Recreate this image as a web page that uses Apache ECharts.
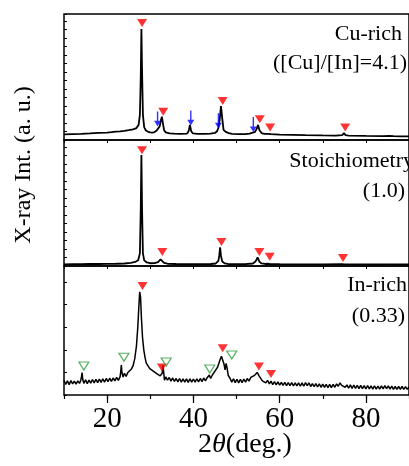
<!DOCTYPE html>
<html>
<head>
<meta charset="utf-8">
<script src="https://cdn.jsdelivr.net/npm/echarts@6/dist/echarts.min.js"></script>
<style>
  html, body { margin: 0; padding: 0; background: #fff; }
  #chart { width: 409px; height: 466px; }
</style>
</head>
<body>
<div id="chart"></div>
<script>
// 2theta (deg.) vs intensity, each panel scaled 0..100
const cuRichData = [
  [10,4.5],[12,4.7],[14,4.9],[16,5.2],[18,5.6],[20,5.9],[21,6.2],[22,6.6],[23,6.9],[24,7.3],
  [25,7.8],[26,8.5],[26.8,9.5],[27.3,12],[27.6,20],[27.8,50],[27.95,88],[28.1,55],[28.3,20],[28.6,10],
  [29,7.5],[29.5,6.5],[30,6],[30.5,5.9],[31,6.3],[31.5,7.5],[31.8,8.5],[32.2,11],[32.5,16],[32.7,18.5],
  [32.9,14],[33.2,8],[33.6,6],[34.5,5.3],[35.5,5],[37,4.9],[38.5,5],[38.9,7],[39.2,12],[39.5,7],
  [39.9,5.2],[41,4.9],[42.5,4.8],[44,5],[45,5.6],[45.5,7],[45.8,9.5],[46.1,16],[46.4,27],[46.7,17],
  [47,8],[47.5,6.5],[47.8,7],[48.2,5.5],[49,4.8],[50.5,4.6],[52,4.6],[53,5],[53.8,5.8],[54.3,6.5],
  [54.7,9],[55,12],[55.3,8],[55.8,5.5],[56.5,4.8],[57.2,4.8],[57.6,6],[58,4.6],[60,4.2],[63,4],
  [66,3.8],[70,3.6],[73,3.5],[74.5,3.8],[74.9,5.5],[75.3,3.8],[76,3.5],[80,3.2],[84,3],[85.5,3.2],
  [85.9,4],[86.4,3],[88,2.9],[90,2.8]
];
const stoichData = [
  [10,1.3],[12,1.4],[14,1.5],[15.8,1.6],[16.1,2.3],[16.4,1.6],[18,1.6],[20,1.7],[22,1.8],[24,2],
  [25.5,2.4],[26.5,3.2],[27.2,4.5],[27.6,10],[27.8,45],[27.95,88],[28.1,45],[28.3,10],[28.6,4.5],[29.2,2.8],
  [30,2.2],[31,2.3],[31.8,3],[32.2,4.5],[32.4,5.3],[32.7,4],[33.2,2.4],[34,1.8],[36,1.6],[38,1.5],
  [40,1.5],[42,1.5],[44,1.6],[45.2,2],[45.8,4],[46,8],[46.2,14.8],[46.4,8],[46.7,3.5],[47.3,2],
  [48,1.6],[50,1.5],[52,1.5],[53.8,2],[54.4,3.5],[54.9,6.9],[55.3,3.5],[55.8,2],[56.6,1.6],[57.2,1.8],
  [57.4,2.5],[57.7,1.6],[60,1.4],[65,1.3],[70,1.3],[74.5,1.4],[74.8,2],[75.1,1.3],[80,1.2],[85.5,1.3],
  [85.8,2],[86.1,1.3],[90,1.2]
];
const inRichData = [
  [10,11.5],[10.4,8.2],[10.8,10.9],[11.2,8],[11.6,11.2],[12,8.6],[12.4,10.8],[12.8,8.4],[13.2,11],[13.6,9],
  [13.9,11.5],[14.05,14],[14.2,17.3],[14.35,12],[14.6,9],[15,11.8],[15.4,8.8],[15.8,11.6],[16.2,9.2],[16.6,12],
  [17,9.4],[17.4,12.2],[17.8,9.6],[18.2,12.4],[18.6,9.8],[19,12.6],[19.4,10],[19.8,12.8],[20.2,10.4],[20.6,13],
  [21,10.6],[21.4,13.2],[21.8,11],[22.2,13.6],[22.6,11.4],[23,14],[23.15,18],[23.3,23.3],[23.45,17],[23.7,14],
  [24,16.8],[24.4,14.4],[24.8,17.5],[25.2,16.2],[25.6,20],[26,22.5],[26.4,28],[26.8,38],[27.1,52],[27.35,68],
  [27.55,80],[27.75,76],[27.95,60],[28.2,45],[28.5,35],[28.8,29],[29.1,24.5],[29.5,24.5],[29.9,20.5],[30.3,21.5],
  [30.7,18.5],[31.1,19.2],[31.5,16.5],[31.9,17.5],[32.3,14.8],[32.6,16],[32.8,17],[32.95,23],[33.1,18],[33.3,11.5],
  [33.6,14],[34,11.5],[34.4,13.6],[34.8,10.8],[35.2,13.2],[35.6,10.6],[36,12.8],[36.4,10.2],[36.8,12.8],[37.2,10],
  [37.6,12.6],[38,10],[38.4,12.6],[38.8,9.8],[39.2,12.6],[39.6,10],[40,12.4],[40.4,10],[40.8,12.6],[41.2,10.2],
  [41.6,12.8],[42,10.4],[42.4,13.2],[42.8,11],[43.2,13.4],[43.45,12.5],[43.7,15.5],[44,12.8],[44.4,15.5],[44.8,15],
  [45.2,19.5],[45.6,21.5],[45.9,24.5],[46.2,27.5],[46.5,30],[46.8,29],[47.1,24],[47.35,19.5],[47.6,24.5],[47.85,20],
  [48.1,15],[48.5,13],[48.9,10],[49.3,12.6],[49.7,9.6],[50.1,12.2],[50.5,9.4],[50.9,12.2],[51.3,9.6],[51.7,12.4],
  [52.1,10],[52.5,12.8],[52.9,10.8],[53.3,13.6],[53.7,12.6],[54.1,15],[54.45,15.2],[54.8,17.5],[55.2,15],[55.6,13.8],
  [56,11],[56.4,12],[56.8,9.4],[57.2,11.4],[57.6,8.6],[58,10.8],[58.4,8],[58.8,10.4],[59.2,7.8],[59.6,10.2],
  [60,7.6],[60.4,9.8],[60.8,7.4],[61.2,9.8],[61.6,7.2],[62,9.6],[62.4,7.2],[62.8,9.6],[63.2,7],[63.6,9.4],
  [64,7],[64.4,9.4],[64.8,6.8],[65.2,9.4],[65.6,6.8],[66,9.6],[66.4,7.2],[66.8,9.4],[67.2,6.6],[67.6,8.8],
  [68,6.4],[68.4,8.8],[68.8,6.2],[69.2,8.6],[69.6,6],[70,8.4],[70.4,6],[70.8,8.2],[71.2,5.8],[71.6,8.2],
  [72,5.8],[72.4,8.2],[72.8,6],[73.2,8.6],[73.6,6.8],[74,9.4],[74.4,7.4],[74.8,8.6],[75.2,6],[75.6,7.8],
  [76,5.4],[76.4,7.8],[76.8,5.2],[77.2,7.6],[77.6,5.2],[78,7.4],[78.4,5],[78.8,7.4],[79.2,5],[79.6,7.2],
  [80,4.8],[80.4,7.2],[80.8,4.8],[81.2,7],[81.6,4.6],[82,7],[82.4,4.6],[82.8,6.8],[83.2,4.6],[83.6,7],
  [84,4.8],[84.4,7.2],[84.8,5],[85.2,7],[85.6,4.6],[86,6.8],[86.4,4.4],[86.8,6.6],[87.2,4.4],[87.6,6.6],
  [88,4.4],[88.4,6.6],[88.8,4.4],[89.2,6.4],[89.6,4.4],[90,6.2]
];

// peak markers [2theta, level]
const cuRichPeaks   = [[28.1,92.9],[33.0,22.5],[46.8,31],[55.4,16.4],[57.8,10],[75.2,10]];
const cuRichArrows  = [[31.7,16.7],[39.4,17.5],[45.8,15.2],[53.9,12.3]];
const stoichPeaks   = [[28.1,91.8],[32.8,11.1],[46.5,19],[55.3,11.1],[57.7,7.4],[74.7,6.3]];
const inRichPeaks   = [[28.2,84.5],[32.7,21.4],[46.8,36.2],[55.2,22],[58.0,16.3]];
const inRichOpen    = [[14.6,22.5],[23.9,29.2],[33.7,25.6],[43.8,20.2],[48.9,31]];

const xTickLabels = [20, 40, 60, 80];
const panelTitles = [
  ['Cu-rich', '([Cu]/[In]=4.1)'],
  ['Stoichiometry', '(1.0)'],
  ['In-rich', '(0.33)']
];

const FONT = '"Liberation Serif", "Times New Roman", serif';
const grids = [
  { left: 64, top: 14,  width: 352, height: 126 },
  { left: 64, top: 140, width: 352, height: 126 },
  { left: 64, top: 266, width: 352, height: 129 }
].map(g => Object.assign(g, { show: true, borderColor: '#000', borderWidth: 1.5, backgroundColor: 'transparent' }));

const xAxes = [];
const yAxes = [];
grids.forEach((g, i) => {
  // top edge: short inward ticks
  xAxes.push({
    type: 'value', gridIndex: i, position: 'top', min: 10, max: 90, interval: 10,
    axisLine: { show: false }, splitLine: { show: false }, axisLabel: { show: false },
    axisTick: { show: true, inside: true, length: 3, lineStyle: { color: '#000', width: 1 } }
  });
  // bottom edge
  xAxes.push({
    type: 'value', gridIndex: i, position: 'bottom', min: 10, max: 90, interval: 10,
    axisLine: { show: false }, splitLine: { show: false }, axisLabel: { show: false },
    axisTick: { show: i === 2, inside: false, length: 4, lineStyle: { color: '#000', width: 1.2 } }
  });
  yAxes.push({
    type: 'value', gridIndex: i, min: 0, max: 100, interval: i === 2 ? 17.5 : 6.75,
    axisLine: { show: false }, splitLine: { show: false }, axisLabel: { show: false },
    axisTick: { show: true, inside: true, length: 3, lineStyle: { color: '#000', width: 1 } }
  });
});
// long ticks + labels on the bottom panel
xAxes.push({
  type: 'value', gridIndex: 2, position: 'bottom', min: 10, max: 90,
  axisLine: { show: false }, splitLine: { show: false },
  axisTick: { show: true, inside: false, length: 8, customValues: xTickLabels, lineStyle: { color: '#000', width: 1.2 } },
  axisLabel: { show: true, customValues: xTickLabels, margin: 10, color: '#000', fontFamily: FONT, fontSize: 29 }
});

const lineSeries = (data, i, w) => ({
  type: 'line', data, xAxisIndex: i * 2 + 1, yAxisIndex: i,
  symbol: 'none', lineStyle: { color: '#000', width: w }, z: 2
});
const markSeries = (data, i, extra) => Object.assign({
  type: 'scatter', data, xAxisIndex: i * 2 + 1, yAxisIndex: i, z: 5,
  symbol: 'triangle', symbolRotate: 180, symbolSize: [10, 8],
  itemStyle: { color: '#ff0000' }
}, extra);

const series = [
  lineSeries(cuRichData, 0, 1.8),
  lineSeries(stoichData, 1, 1.8),
  lineSeries(inRichData, 2, 1.5),
  markSeries(cuRichPeaks, 0),
  markSeries(cuRichArrows, 0, {
    symbol: 'path://M4,0 L6,0 L6,10 L10,10 L5,16 L0,10 L4,10 Z', symbolRotate: 0,
    symbolSize: [7, 15], itemStyle: { color: '#0000ff' }
  }),
  markSeries(stoichPeaks, 1),
  markSeries(inRichPeaks, 2),
  markSeries(inRichOpen, 2, {
    symbolSize: [10, 8],
    itemStyle: { color: 'rgba(0,0,0,0)', borderColor: '#2e9e3a', borderWidth: 1.2 }
  })
];

// panel captions, right aligned
const titlePos = [[402, 34, 407, 63], [414, 161, 405, 191], [407, 285, 405, 316]];
const graphic = [];
panelTitles.forEach((t, i) => {
  const p = titlePos[i];
  graphic.push({ type: 'text', x: p[0], y: p[1], style: { text: t[0], font: '22px ' + FONT, fill: '#000', align: 'right', verticalAlign: 'middle' } });
  graphic.push({ type: 'text', x: p[2], y: p[3], style: { text: t[1], font: '22px ' + FONT, fill: '#000', align: 'right', verticalAlign: 'middle' } });
});
graphic.push({
  type: 'text', x: 24, y: 165, rotation: Math.PI / 2,
  style: { text: 'X-ray Int. (a. u.)', font: '24px ' + FONT, fill: '#000', align: 'center', verticalAlign: 'middle' }
});
graphic.push({
  type: 'text', x: 245, y: 445,
  style: {
    text: '{n|2}{t|θ}{n|(deg.)}', align: 'center', verticalAlign: 'middle',
    rich: {
      n: { font: '28px ' + FONT, fill: '#000' },
      t: { font: 'italic 28px ' + FONT, fill: '#000' }
    }
  }
});

const chart = echarts.init(document.getElementById('chart'), null, { renderer: 'canvas' });
chart.setOption({
  animation: false,
  backgroundColor: '#fff',
  grid: grids,
  xAxis: xAxes,
  yAxis: yAxes,
  series,
  graphic
});
</script>
</body>
</html>
